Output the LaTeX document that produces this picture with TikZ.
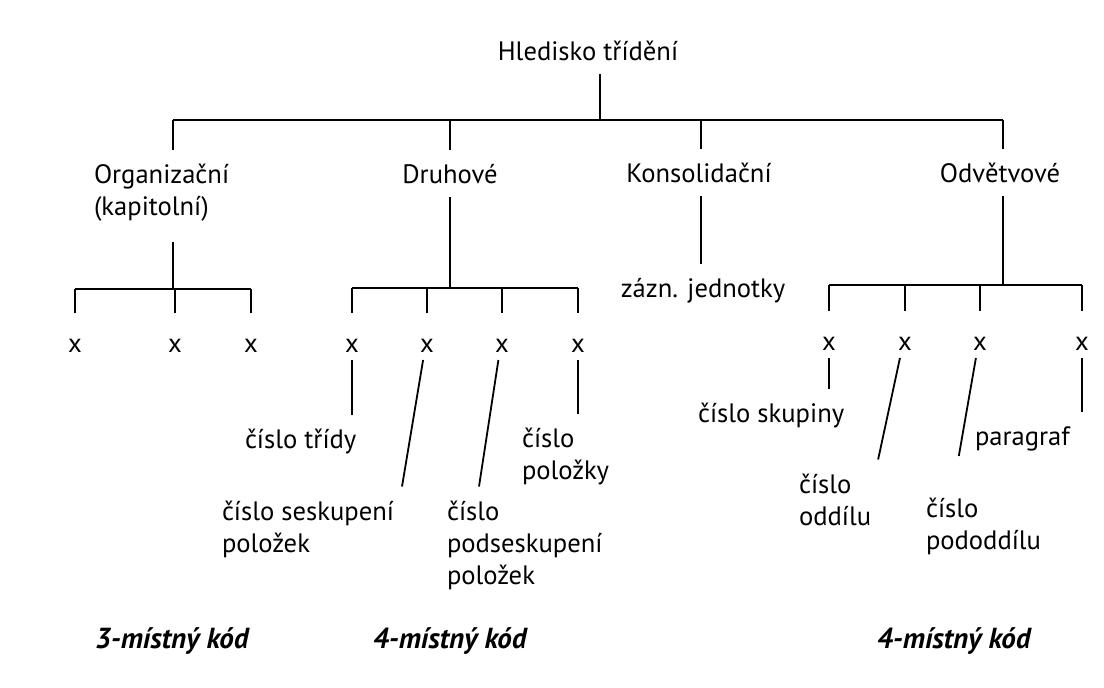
\documentclass[tikz,border=0pt]{standalone}
\usepackage{fontspec}
\setmainfont{PT Sans}

\begin{document}
\begin{tikzpicture}[
        x=0.5pt, y=-0.5pt,
        line width=0.9pt,
        every node/.style={font=\fontsize{13.3}{16}\selectfont, inner sep=0pt, outer sep=7pt},
        lbl/.style={anchor=base west, align=left},
        leaf/.style={anchor=base, text height=15.5pt, text depth=0pt, outer sep=4pt},
        code/.style={anchor=base west, font=\fontsize{14.5}{16}\selectfont\bfseries\itshape}
    ]
        \useasboundingbox (0,0) rectangle (1104,687);

        \node[anchor=base] (root) at (588,60) {Hledisko třídění};
        \coordinate (rootJ) at (600,120);
        \coordinate (hA) at (173,120);
        \coordinate (hB) at (450,120);
        \coordinate (hC) at (701,120);
        \coordinate (hD) at (1003,120);

        % multi-line labels: base = last line
        \node[lbl] (org) at (80,215) {Organizační\\(kapitolní)};
        \node[anchor=base] (druh) at (450,183) {Druhové};
        \node[anchor=base] (kons) at (699,182) {Konsolidační};
        \node[anchor=base] (odv) at (1000,182) {Odvětvové};
        \node[anchor=base] (zazn) at (703,297) {zázn. jednotky};

        \draw (root.south -| rootJ) -- (rootJ);
        \draw (hA) -- (hD);
        \foreach \h/\n in {hA/org, hB/druh, hC/kons, hD/odv}
            \draw (\h) -- (\h |- \n.north);
        \draw (hC |- kons.south) -- (hC |- zazn.north);

        \coordinate (oJ) at (173,289);
        \coordinate (dJ) at (450,288);
        \coordinate (vJ) at (1003,285);
        \foreach \i/\px in {1/75, 2/175, 3/251}
            \node[leaf] (ox\i) at (\px,352) {x};
        \foreach \i/\px in {1/352, 2/427, 3/502, 4/578}
            \node[leaf] (dx\i) at (\px,352) {x};
        \foreach \i/\px in {1/829, 2/905, 3/980, 4/1082}
            \node[leaf] (vx\i) at (\px,350) {x};

        \draw[shorten <=3.5pt] (org.south -| oJ) -- (oJ);
        \draw (druh) -- (dJ);
        \draw (odv.south -| vJ) -- (vJ);
        \draw (ox1.north |- oJ) -- (ox3.north |- oJ);
        \draw (dx1.north |- dJ) -- (dx4.north |- dJ);
        \draw (vx1.north |- vJ) -- (vx4.north |- vJ);
        \foreach \i in {1,2,3}
            \draw (ox\i.north |- oJ) -- (ox\i.north);
        \foreach \i in {1,...,4} {
            \draw (dx\i.north |- dJ) -- (dx\i.north);
            \draw (vx\i.north |- vJ) -- (vx\i.north);
        }

        \node[lbl] (tridy) at (231,448) {číslo třídy};
        \node[lbl] (seskup) at (208,552) {číslo seskupení\\položek};
        \node[lbl] (podsesk) at (433,584) {číslo\\podseskupení\\položek};
        \node[lbl] (polozky) at (508,479) {číslo\\položky};
        \node[lbl] (skupiny) at (684,422) {číslo skupiny};
        \node[lbl] (oddilu) at (785,525) {číslo\\oddílu};
        \node[lbl] (pododd) at (912,549) {číslo\\pododdílu};
        \node[lbl] (paragraf) at (961,445) {paragraf};

        \draw (dx1) -- (dx1 |- tridy.north);
        \draw (dx2) -- ([xshift=-3pt]seskup.north east);
        \draw (dx3) -- ([xshift=23pt]podsesk.north west);
        \draw (dx4) -- (dx4 |- polozky.north);
        \draw (vx1) -- (vx1 |- skupiny.north);
        \draw (vx2) -- ([xshift=-3.5pt]oddilu.north east);
        \draw[shorten >=14pt] (vx3) -- ([xshift=21pt]pododd.north west);
        \draw (vx4) -- (vx4 |- paragraf.north);

        \node[code] (kod3) at (81,648) {3-místný kód};
        \node[code] (kod4a) at (359,648) {4-místný kód};
        \node[code] (kod4b) at (863,648) {4-místný kód};
    \end{tikzpicture}
\end{document}
